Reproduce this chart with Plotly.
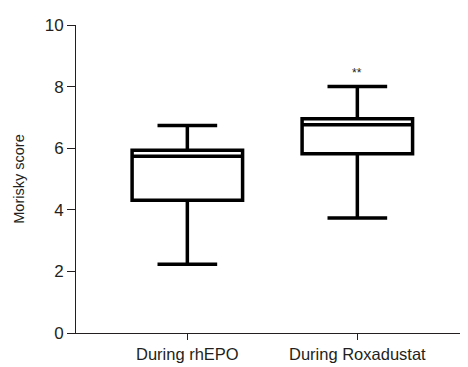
import plotly.graph_objects as go

categories = ["During rhEPO", "During Roxadustat"]
lower_whisker = [2.23, 3.73]
q1_values = [4.31, 5.82]
median_values = [5.74, 6.76]
q3_values = [5.93, 6.96]
upper_whisker = [6.74, 8.0]
y_ticks = [0, 2, 4, 6, 8, 10]
significance_label = "**"
significance_y = 8.43

fig = go.Figure()
fig.add_trace(go.Box(
    x=categories,
    q1=q1_values,
    median=median_values,
    q3=q3_values,
    lowerfence=lower_whisker,
    upperfence=upper_whisker,
    fillcolor="white",
    line=dict(color="black", width=3.5),
    width=0.65,
    whiskerwidth=0.54,
    boxpoints=False,
    showlegend=False,
))

fig.add_annotation(
    x=categories[1], y=significance_y, text=significance_label,
    showarrow=False, font=dict(size=12, color="#231f20"),
)

fig.update_layout(
    width=468, height=367,
    margin=dict(l=68, r=8, t=14, b=42),
    paper_bgcolor="white", plot_bgcolor="white",
    font=dict(family="Liberation Sans, Arial, sans-serif", color="#231f20"),
    xaxis=dict(
        range=[-0.655, 1.651],
        showline=True, linecolor="#231f20", linewidth=1,
        ticks="outside", ticklen=6, tickcolor="#231f20", tickwidth=1,
        tickfont=dict(size=16.5),
        showgrid=False, zeroline=False,
    ),
    yaxis=dict(
        range=[0, 10], tickvals=y_ticks,
        showline=True, linecolor="#231f20", linewidth=1,
        ticks="outside", ticklen=8, tickcolor="#231f20", tickwidth=1,
        tickfont=dict(size=17),
        title=dict(text="Morisky score", font=dict(size=14.5), standoff=16),
        showgrid=False, zeroline=False,
    ),
)

fig.write_html("out.html")
